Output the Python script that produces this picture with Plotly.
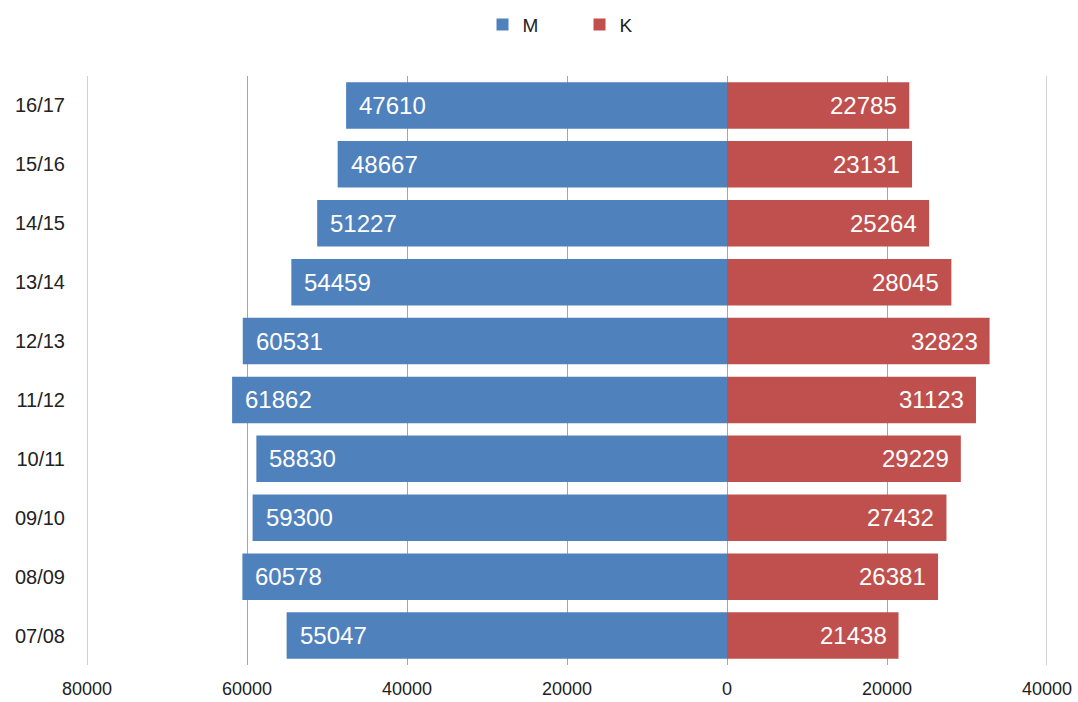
import plotly.graph_objects as go

years = ["07/08", "08/09", "09/10", "10/11", "11/12", "12/13", "13/14", "14/15", "15/16", "16/17"]
men = [55047, 60578, 59300, 58830, 61862, 60531, 54459, 51227, 48667, 47610]
women = [21438, 26381, 27432, 29229, 31123, 32823, 28045, 25264, 23131, 22785]
tick_vals = [-80000, -60000, -40000, -20000, 0, 20000, 40000]
tick_text = ["80000", "60000", "40000", "20000", "0", "20000", "40000"]

BLUE = "#4F81BD"
RED = "#C0504D"
GRID = "#A6A6A6"
FONT = "Liberation Sans"

fig = go.Figure()
fig.add_trace(go.Bar(
    y=years, x=[-v for v in men], orientation="h", name="M",
    marker=dict(color=BLUE, line=dict(width=0)), hoverinfo="skip",
))
fig.add_trace(go.Bar(
    y=years, x=women, orientation="h", name="K",
    marker=dict(color=RED, line=dict(width=0)), hoverinfo="skip",
))

# value labels inside the bar ends
for y, v in zip(years, men):
    fig.add_annotation(x=-v, y=y, text=str(v), showarrow=False, xanchor="left",
                       xshift=11, font=dict(family=FONT, size=24, color="white"))
for y, v in zip(years, women):
    fig.add_annotation(x=v, y=y, text=str(v), showarrow=False, xanchor="right",
                       xshift=-10, font=dict(family=FONT, size=24, color="white"))

# gridlines on the outer ticks (plotly skips those at the plot edges)
for xv in (tick_vals[0], tick_vals[-1]):
    fig.add_shape(type="line", xref="x", yref="paper", x0=xv, x1=xv, y0=0, y1=1,
                  line=dict(color=GRID, width=1), layer="below")

fig.update_layout(
    width=1078, height=702,
    margin=dict(l=87, r=31, t=76, b=37, autoexpand=False),
    barmode="relative", bargap=0.21,
    plot_bgcolor="white", paper_bgcolor="white",
    font=dict(family=FONT, size=18, color="#222222"),
    showlegend=True,
    legend=dict(orientation="h", x=0.412, xanchor="left", y=1.087, yanchor="middle",
                font=dict(size=19), itemwidth=30, entrywidth=52, traceorder="normal"),
    xaxis=dict(range=[tick_vals[0], tick_vals[-1]], tickvals=tick_vals, ticktext=tick_text,
               showgrid=True, gridcolor=GRID, gridwidth=1,
               zeroline=True, zerolinecolor=GRID, zerolinewidth=1,
               showline=False, ticks="", ticklabelstandoff=11, fixedrange=True),
    yaxis=dict(showgrid=False, zeroline=False, showline=False, ticks="",
               tickfont=dict(size=20),
               ticklabelstandoff=21, fixedrange=True, type="category"),
)

fig.write_html("out.html")
